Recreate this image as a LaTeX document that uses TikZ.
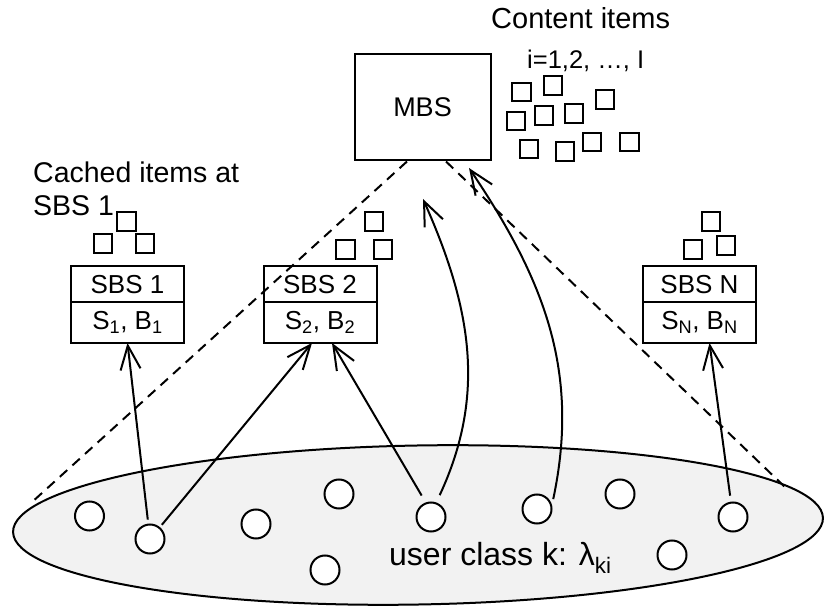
\documentclass[tikz,border=0pt]{standalone}
\usepackage{fontspec}
\setmainfont{Liberation Sans}
\usepackage{tikz}
\usetikzlibrary{positioning,arrows.meta,shapes.geometric}
\definecolor{cellgray}{rgb}{0.95, 0.95, 0.95}

\begin{document}
\begin{tikzpicture}[x=1pt,y=1pt,
    item/.style={draw, line width=2pt, minimum size=18.5pt, inner sep=0pt},
    user/.style={draw, circle, fill=white, line width=2pt, minimum size=29pt, inner sep=0pt},
    sbstop/.style={draw, line width=2pt, minimum width=113pt, minimum height=36.5pt, inner sep=0pt, outer sep=0pt, font=\fontsize{26}{30}\selectfont},
    sbsbot/.style={draw, line width=2pt, minimum width=113pt, minimum height=40.5pt, inner sep=0pt, outer sep=0pt, anchor=north, font=\fontsize{26}{30}\selectfont},
    link/.style={line width=2pt, -{Straight Barb[length=24pt,width=20pt]}},
    cone/.style={line width=2pt, dash pattern=on 10pt off 7pt}]
    \useasboundingbox (0,0) rectangle (824,610);

    % user cell
    \node[draw, ellipse, fill=cellgray, line width=2pt, minimum width=810pt, minimum height=159pt, rotate=1] (cell) at (418,85) {};

    % macro base station and its library
    \draw (422.5,502.5) node[draw, line width=2pt, minimum width=136pt, minimum height=106pt, font=\fontsize{27}{30}\selectfont] (mbs) {MBS};
    \node[anchor=base west, inner sep=0pt, font=\fontsize{29}{34}\selectfont] (ctitle) at (491,581) {Content items};
    \node[anchor=base west, inner sep=0pt, font=\fontsize{25.5}{28}\selectfont] (cidx) at (527,541) {i=1,2, …, I};
    \node[item] (c1) at (521.5,518) {};
    \node[item] (c2) at (553,524.5) {};
    \node[item] (c3) at (605,510.5) {};
    \node[item] (c4) at (516,489) {};
    \node[item] (c5) at (544,494.5) {};
    \node[item] (c6) at (574,496.5) {};
    \node[item] (c7) at (529,461) {};
    \node[item] (c8) at (565,458.5) {};
    \node[item] (c9) at (592,468) {};
    \node[item] (c10) at (629.5,468) {};

    % small base stations
    \node[anchor=north west, align=left, inner sep=0pt, font=\fontsize{28.5}{33}\selectfont] (cached) at (33,448) {Cached items at\\SBS 1};
    \node[sbstop] (sbs1) at (127.5,325.75) {SBS 1};
    \node[sbsbot] (sbs1c) at (sbs1.south) {S\textsubscript{1}, B\textsubscript{1}};
    \node[sbstop] (sbs2) at (320,325.75) {SBS 2};
    \node[sbsbot] (sbs2c) at (sbs2.south) {S\textsubscript{2}, B\textsubscript{2}};
    \node[sbstop] (sbsN) at (699.5,325.75) {SBS N};
    \node[sbsbot] (sbsNc) at (sbsN.south) {S\textsubscript{N}, B\textsubscript{N}};

    \node[item] (s1a) at (126.5,388.5) {};
    \node[item] (s1b) at (103,366.5) {};
    \node[item] (s1c) at (145,366.5) {};
    \node[item] (s2a) at (374,388.5) {};
    \node[item] (s2b) at (345.5,360.5) {};
    \node[item] (s2c) at (383,360.5) {};
    \node[item] (sNa) at (711,388.5) {};
    \node[item] (sNb) at (693,360.5) {};
    \node[item] (sNc) at (726,364.5) {};

    % users
    \node[user] (u1) at (89.5,94) {};
    \node[user] (u2) at (150,71) {};
    \node[user] (u3) at (256,86) {};
    \node[user] (u4) at (339,116) {};
    \node[user] (u5) at (431,93) {};
    \node[user] (u6) at (325,40) {};
    \node[user] (u7) at (537,101) {};
    \node[user] (u8) at (620,116) {};
    \node[user] (u9) at (733,93) {};
    \node[user] (u10) at (672,55) {};
    \node[anchor=base west, inner sep=0pt, font=\fontsize{32}{36}\selectfont] (ulabel) at (389,44) {user class k: λ\textsubscript{ki}};

    % coverage of the MBS
    \coordinate (cl) at (31,107);
    \coordinate (cr) at (788,120);
    \draw[cone] ([xshift=-15.5pt]mbs.south) -- (cl);
    \draw[cone] ([xshift=23.5pt]mbs.south) -- (cr);

    % requests
    \coordinate (req1) at (423,411);
    \coordinate (req2) at (469,442);
    \draw[link, shorten <=4pt] (u2) -- (sbs1c.south);
    \draw[link, shorten <=3pt] (u2.50) -- ([xshift=-8pt]sbs2c.south);
    \draw[link, shorten <=8pt] (u5.110) -- ([xshift=12pt]sbs2c.south);
    \draw[link, shorten <=8pt] (u5.70) to[out=65,in=-66] (req1);
    \draw[link, shorten <=6pt] (u7.15) to[out=78,in=-56] (req2);
    \draw[link, shorten <=6pt] (u9) -- ([xshift=10pt]sbsNc.south);
\end{tikzpicture}
\end{document}
